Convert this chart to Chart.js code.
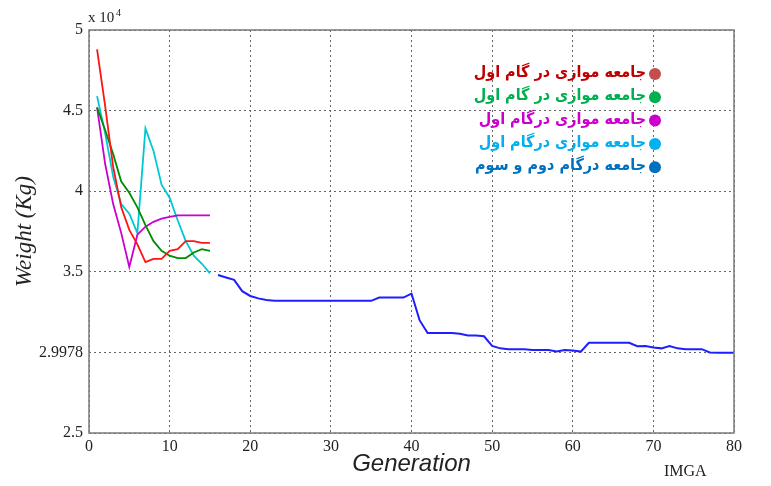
<!DOCTYPE html>
<html>
<head>
<meta charset="utf-8">
<script src="https://cdn.jsdelivr.net/npm/chart.js@4.4.1/dist/chart.umd.min.js"></script>
<style>
  body { margin: 0; background: #fff; }
  #wrap { width: 771px; height: 486px; }
</style>
</head>
<body>
<div id="wrap"><canvas id="chart" width="771" height="486"></canvas></div>
<script>
// generations and weights (x 10^4 Kg)
const earlyGens = [1, 2, 3, 4, 5, 6, 7, 8, 9, 10, 11, 12, 13, 14, 15];
const redVals = [4.88, 4.53, 4.15, 3.90, 3.76, 3.67, 3.56, 3.58, 3.58, 3.63, 3.64, 3.69, 3.69, 3.68, 3.68];
const greenVals = [4.52, 4.38, 4.23, 4.06, 3.99, 3.90, 3.79, 3.69, 3.63, 3.60, 3.585, 3.585, 3.62, 3.64, 3.63];
const magentaVals = [4.52, 4.17, 3.92, 3.74, 3.53, 3.73, 3.78, 3.81, 3.83, 3.84, 3.85, 3.85, 3.85, 3.85, 3.85];
const cyanVals = [4.59, 4.36, 4.09, 3.92, 3.86, 3.74, 4.39, 4.25, 4.04, 3.96, 3.82, 3.69, 3.60, 3.55, 3.49];

const blueGens = [16, 17, 18, 19, 20, 21, 22, 23, 24, 25, 26, 27, 28, 29, 30, 31, 32, 33, 34, 35,
  36, 37, 38, 39, 40, 41, 42, 43, 44, 45, 46, 47, 48, 49, 50, 51, 52, 53, 54, 55, 56, 57, 58, 59, 60,
  61, 62, 63, 64, 65, 66, 67, 68, 69, 70, 71, 72, 73, 74, 75, 76, 77, 78, 79, 80];
const blueVals = [3.48, 3.465, 3.45, 3.38, 3.35, 3.335, 3.325, 3.32, 3.32, 3.32, 3.32, 3.32, 3.32, 3.32, 3.32, 3.32, 3.32, 3.32, 3.32, 3.32,
  3.34, 3.34, 3.34, 3.34, 3.365, 3.20, 3.12, 3.12, 3.12, 3.12, 3.115, 3.105, 3.105, 3.10, 3.04, 3.025, 3.02, 3.02, 3.02, 3.015, 3.015, 3.015, 3.005, 3.015, 3.012,
  3.005, 3.06, 3.06, 3.06, 3.06, 3.06, 3.06, 3.038, 3.04, 3.03, 3.025, 3.04, 3.025, 3.02, 3.02, 3.02, 3.0, 2.9978, 2.9978, 2.9978];

const yTicks = [2.5, 2.9978, 3.5, 4, 4.5, 5];
const legendLabels = [
  'جامعه موازی در گام اول',
  'جامعه موازی در گام اول',
  'جامعه موازی درگام اول',
  'جامعه موازی درگام اول',
  'جامعه درگام دوم و سوم'
];
const legendTextColors = ['#c00000', '#00b050', '#cc00cc', '#00b0f0', '#0070c0'];
const legendDotColors = ['#c0504d', '#00b050', '#cc00cc', '#00b0f0', '#0070c0'];

function toPoints(xs, ys) {
  return xs.map((x, i) => ({ x: x, y: ys[i] }));
}

function series(xs, ys, color, width) {
  return {
    data: toPoints(xs, ys),
    borderColor: color,
    backgroundColor: color,
    borderWidth: width,
    pointRadius: 0,
    tension: 0,
    fill: false
  };
}

// frame, exponent label, IMGA tag and the persian legend
const extras = {
  id: 'extras',
  afterDraw(chart) {
    const ctx = chart.ctx;
    const a = chart.chartArea;
    ctx.save();
    ctx.strokeStyle = '#7a7a7a';
    ctx.lineWidth = 1.5;
    ctx.strokeRect(a.left, a.top, a.right - a.left, a.bottom - a.top);

    ctx.fillStyle = '#222';
    ctx.textBaseline = 'alphabetic';
    ctx.textAlign = 'left';
    ctx.font = '15px "Liberation Serif"';
    ctx.fillText('x 10', a.left - 1, a.top - 8);
    ctx.font = '10px "Liberation Serif"';
    ctx.fillText('4', a.left + 27, a.top - 14);
    ctx.font = '16px "Liberation Serif"';
    ctx.fillText('IMGA', 664, 476);

    ctx.font = 'bold 16px "DejaVu Sans Condensed"';
    ctx.textBaseline = 'middle';
    ctx.direction = 'rtl';
    ctx.textAlign = 'right';
    for (let i = 0; i < legendLabels.length; i++) {
      const y = 73 + i * 23.3;
      ctx.fillStyle = legendTextColors[i];
      ctx.fillText(legendLabels[i], 646, y);
      ctx.fillStyle = legendDotColors[i];
      ctx.beginPath();
      ctx.arc(655, y + 1, 6, 0, Math.PI * 2);
      ctx.fill();
    }
    ctx.restore();
  }
};

const ctx = document.getElementById('chart').getContext('2d');
new Chart(ctx, {
  type: 'line',
  data: {
    datasets: [
      series(earlyGens, redVals, 'rgb(255,20,20)', 1.8),
      series(earlyGens, greenVals, 'rgb(0,140,0)', 1.8),
      series(earlyGens, magentaVals, 'rgb(204,0,204)', 1.8),
      series(earlyGens, cyanVals, 'rgb(0,200,210)', 1.8),
      series(blueGens, blueVals, 'rgb(30,30,255)', 2)
    ]
  },
  options: {
    responsive: false,
    animation: false,
    layout: { padding: { left: 0, right: 37, top: 30, bottom: 0 } },
    plugins: { legend: { display: false }, tooltip: { enabled: false } },
    scales: {
      x: {
        type: 'linear',
        min: 0,
        max: 80,
        ticks: { stepSize: 10, padding: 4, color: '#222', font: { family: 'Liberation Serif', size: 16 } },
        grid: { color: '#666', lineWidth: 1, drawTicks: false },
        border: { display: false, dash: [2, 3] },
        title: {
          display: true,
          text: 'Generation',
          color: '#222',
          padding: { top: 0, bottom: 7 },
          font: { family: 'Liberation Sans', size: 24, style: 'italic' }
        },
        afterFit(scale) { scale.height = 53; }
      },
      y: {
        min: 2.5,
        max: 5,
        afterBuildTicks(scale) { scale.ticks = yTicks.map(v => ({ value: v })); },
        ticks: {
          padding: 6,
          color: '#222',
          font: { family: 'Liberation Serif', size: 16 },
          callback: v => String(v)
        },
        grid: { color: '#666', lineWidth: 1, drawTicks: false },
        border: { display: false, dash: [2, 3] },
        title: {
          display: true,
          text: 'Weight (Kg)',
          color: '#222',
          padding: { top: 11, bottom: 0 },
          font: { family: 'Liberation Serif', size: 23, style: 'italic' }
        },
        afterFit(scale) { scale.width = 89; }
      }
    }
  },
  plugins: [extras]
});
</script>
</body>
</html>
